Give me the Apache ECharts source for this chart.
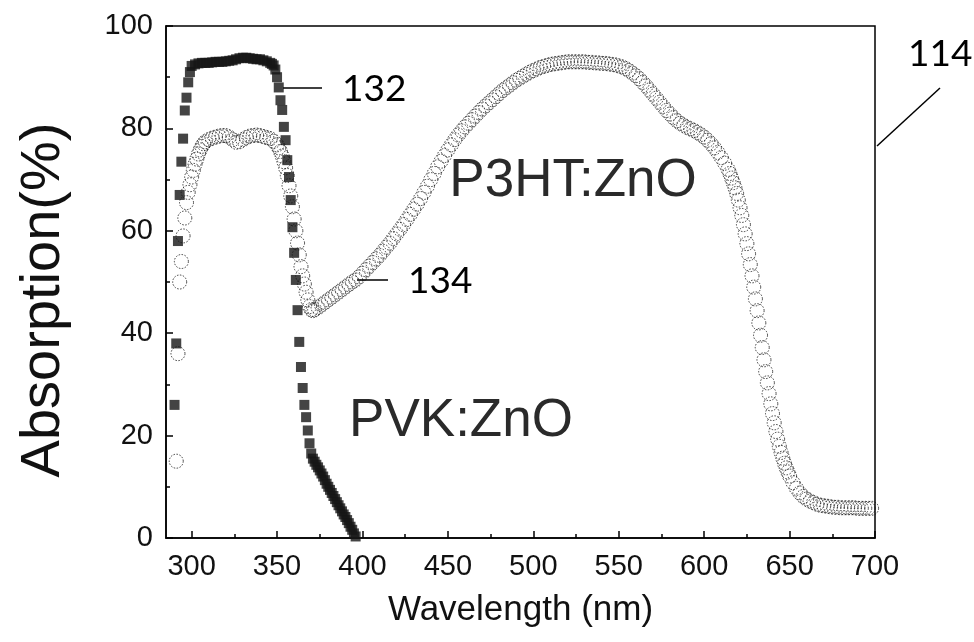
<!DOCTYPE html>
<html>
<head>
<meta charset="utf-8">
<title>Absorption</title>
<script src="https://cdn.jsdelivr.net/npm/echarts@6.0.0/dist/echarts.min.js"></script>
<style>
	html, body { margin: 0; padding: 0; background: #fff; }
	#c-abs { width: 974px; height: 642px; }
</style>
</head>
<body>
<div id="c-abs"></div>
<script>
// PVK:ZnO  [wavelength nm, absorption %]
var pvkData = [
	[290, 26], [291, 38], [292, 58], [293, 67], [294, 73.5], [295, 78], [296, 83.5], [297, 86], [298, 89], [299, 91],
	[300, 92.2], [302, 92.5], [304, 92.7], [306, 92.8], [308, 92.8], [310, 92.8], [312, 92.9], [314, 93], [316, 93], [318, 93],
	[320, 93.1], [322, 93.2], [324, 93.3], [326, 93.5], [328, 93.7], [330, 93.8], [332, 93.8], [334, 93.7], [336, 93.6], [338, 93.5],
	[340, 93.5], [342, 93.3], [344, 93.1], [346, 92.8], [347, 92.6], [348, 92.3], [349, 91.5], [350, 90], [351, 88], [352, 85.5],
	[353, 83.6], [354, 80.3], [355, 77.7], [356, 73.8], [357, 70.5], [358, 66], [359, 60.7], [360, 55.7], [361, 50.4], [362, 44.5],
	[363, 38.3], [364, 33.4], [365, 29.3], [366, 26], [367, 23.6], [368, 21], [369, 18.5], [370, 16.5], [371, 15.5], [372, 14.9],
	[373, 14.3], [374, 13.8], [375, 13.2], [376, 12.6], [377, 12], [378, 11.3], [379, 10.6], [380, 10], [381, 9.4], [382, 8.8],
	[383, 8.2], [384, 7.6], [385, 7], [386, 6.4], [387, 5.8], [388, 5.2], [389, 4.6], [390, 4.1], [391, 3.5], [392, 2.9],
	[393, 2.2], [394, 1.6], [395, 0.9], [396, 0.3]
];

// P3HT:ZnO
var p3htData = [
	[291, 15], [292, 36], [293, 50], [294, 54], [295, 59], [296, 62.5], [297, 65.5], [298, 67.5], [299, 69], [300, 70.5],
	[301, 71.8], [302, 73], [303, 74], [304, 75], [305, 75.8], [306, 76.5], [307, 77], [308, 77.4], [310, 77.8], [312, 78.1],
	[314, 78.3], [316, 78.5], [318, 78.6], [320, 78.6], [322, 78.3], [324, 77.8], [326, 77.3], [328, 77.4], [330, 77.8], [332, 78.2],
	[334, 78.5], [336, 78.6], [338, 78.7], [340, 78.6], [342, 78.4], [344, 78.2], [346, 78], [348, 77.5], [350, 76.8], [351, 76.2],
	[352, 75.5], [353, 74.6], [354, 73.5], [355, 72.3], [356, 70.8], [357, 68.8], [358, 66.8], [359, 64.7], [360, 62.3], [361, 60],
	[362, 57.6], [363, 55.3], [364, 53], [365, 51.2], [366, 49.6], [367, 48], [368, 46.5], [369, 45.2], [370, 44.6], [371, 44.4],
	[372, 44.6], [374, 45], [376, 45.5], [378, 46], [380, 46.5], [382, 47], [384, 47.5], [386, 48], [388, 48.5], [390, 49],
	[392, 49.5], [394, 50], [396, 50.4], [398, 51], [400, 51.7], [402, 52.4], [404, 53.1], [406, 53.8], [408, 54.5], [410, 55.2],
	[412, 56], [414, 56.8], [416, 57.6], [418, 58.5], [420, 59.4], [422, 60.3], [424, 61.2], [426, 62.2], [428, 63.2], [430, 64.2],
	[432, 65.2], [434, 66.3], [436, 67.5], [438, 68.7], [440, 70], [442, 71.2], [444, 72.5], [446, 73.6], [448, 74.7], [450, 75.8],
	[452, 76.8], [454, 77.8], [456, 78.7], [458, 79.5], [460, 80.3], [462, 81], [464, 81.7], [466, 82.4], [468, 83.1], [470, 83.8],
	[472, 84.4], [474, 85], [476, 85.6], [478, 86.2], [480, 86.8], [482, 87.4], [484, 87.9], [486, 88.4], [488, 88.9], [490, 89.4],
	[492, 89.8], [494, 90.2], [496, 90.6], [498, 91], [500, 91.3], [502, 91.6], [504, 91.9], [506, 92.1], [508, 92.3], [510, 92.5],
	[512, 92.6], [514, 92.7], [516, 92.8], [518, 92.9], [520, 93], [522, 93], [524, 93], [526, 93], [528, 93], [530, 93],
	[532, 92.9], [534, 92.9], [536, 92.8], [538, 92.8], [540, 92.7], [542, 92.7], [544, 92.6], [546, 92.5], [548, 92.4], [550, 92.2],
	[552, 92], [554, 91.7], [556, 91.3], [558, 90.8], [560, 90.3], [562, 89.7], [564, 89], [566, 88.3], [568, 87.5], [570, 86.7],
	[572, 85.9], [574, 85.1], [576, 84.3], [578, 83.5], [580, 82.8], [582, 82.1], [584, 81.5], [586, 81], [588, 80.6], [590, 80.2],
	[592, 79.9], [594, 79.6], [596, 79.2], [598, 78.8], [600, 78.3], [602, 77.7], [604, 77], [606, 76.2], [608, 75.3], [610, 74.3],
	[612, 73.2], [614, 72], [615, 71.2], [616, 70.3], [617, 69.4], [618, 68.4], [619, 67.3], [620, 66], [621, 64.5], [622, 63],
	[623, 61.2], [624, 59.4], [625, 57.5], [626, 55.5], [627, 53.4], [628, 51.2], [629, 49], [630, 46.7], [631, 44.4], [632, 42],
	[633, 39.6], [634, 37.2], [635, 34.8], [636, 32.5], [637, 30.3], [638, 28.2], [639, 26.2], [640, 24.3], [641, 22.5], [642, 20.8],
	[643, 19.3], [644, 17.9], [645, 16.7], [646, 15.6], [647, 14.6], [648, 13.7], [649, 12.9], [650, 12.1], [652, 10.8], [654, 9.7],
	[656, 8.8], [658, 8.1], [660, 7.6], [662, 7.2], [664, 6.9], [666, 6.6], [668, 6.4], [670, 6.3], [672, 6.2], [674, 6.1],
	[676, 6], [678, 6], [680, 5.9], [682, 5.9], [684, 5.9], [686, 5.9], [688, 5.9], [690, 5.8], [692, 5.8], [694, 5.8],
	[696, 5.8], [698, 5.8]
];

var xMajorTicks = [300, 350, 400, 450, 500, 550, 600, 650, 700];
var xMinorTicks = [325, 375, 425, 475, 525, 575, 625, 675];

var labelFont = 'Liberation Sans';
var noteFont = 'Lato';

var absChart = echarts.init(document.getElementById('c-abs'));

var absOption = {
	animation: false,
	backgroundColor: '#fff',
	grid: {
		left: 166,
		right: 99,
		top: 26,
		bottom: 104,
		show: true,
		borderColor: '#000',
		borderWidth: 1.5
	},
	xAxis: [{
		type: 'value',
		min: 285,
		max: 700,
		position: 'bottom',
		name: 'Wavelength (nm)',
		nameLocation: 'middle',
		nameGap: 55,
		nameTextStyle: { fontFamily: labelFont, fontSize: 35, color: '#111' },
		axisLine: { show: true, lineStyle: { color: '#000', width: 1.5 } },
		axisTick: { show: true, inside: true, length: 7, customValues: xMajorTicks, lineStyle: { color: '#000', width: 1.5 } },
		axisLabel: { customValues: xMajorTicks, margin: 14, fontFamily: labelFont, fontSize: 29, color: '#111' },
		splitLine: { show: false }
	}, {
		// minor ticks only
		type: 'value',
		min: 285,
		max: 700,
		position: 'bottom',
		axisLine: { show: false },
		axisTick: { show: true, inside: true, length: 4, customValues: xMinorTicks, lineStyle: { color: '#000', width: 1.5 } },
		axisLabel: { show: false },
		splitLine: { show: false }
	}],
	yAxis: {
		type: 'value',
		min: 0,
		max: 100,
		interval: 20,
		axisLine: { show: true, lineStyle: { color: '#000', width: 1.5 } },
		axisTick: { show: true, inside: true, length: 7, lineStyle: { color: '#000', width: 1.5 } },
		minorTick: { show: true, splitNumber: 2, length: 4, lineStyle: { color: '#000', width: 1.5 } },
		axisLabel: { margin: 13, fontFamily: labelFont, fontSize: 29, color: '#111' },
		splitLine: { show: false }
	},
	series: [{
		name: 'P3HT:ZnO',
		type: 'scatter',
		data: p3htData,
		symbol: 'circle',
		symbolSize: 14,
		itemStyle: { color: 'rgba(0,0,0,0)', borderColor: '#111', borderWidth: 1, borderType: [1.5, 1.5] },
		z: 2
	}, {
		name: 'PVK:ZnO',
		type: 'scatter',
		data: pvkData,
		symbol: 'rect',
		symbolSize: 10,
		itemStyle: { color: '#151515' },
		z: 3
	}],
	graphic: [
		// y axis title, a little below the axis middle as in the original
		{ type: 'text', x: 44, y: 300, rotation: Math.PI / 2, style: { text: 'Absorption(%)', fontFamily: labelFont, fontSize: 56, fill: '#111', align: 'center', verticalAlign: 'middle' } },
		{ type: 'line', shape: { x1: 283, y1: 88, x2: 322, y2: 88 }, style: { stroke: '#000', lineWidth: 1.5 } },
		{ type: 'text', x: 342, y: 89, style: { text: '132', fontFamily: noteFont, fontSize: 37, fill: '#000', verticalAlign: 'middle' } },
		{ type: 'line', shape: { x1: 357, y1: 280, x2: 388, y2: 280 }, style: { stroke: '#000', lineWidth: 1.5 } },
		{ type: 'text', x: 408, y: 281, style: { text: '134', fontFamily: noteFont, fontSize: 37, fill: '#000', verticalAlign: 'middle' } },
		{ type: 'line', shape: { x1: 877, y1: 146, x2: 940, y2: 88 }, style: { stroke: '#000', lineWidth: 1.5 } },
		{ type: 'text', x: 908, y: 54, style: { text: '114', fontFamily: noteFont, fontSize: 37, fill: '#000', verticalAlign: 'middle' } },
		{ type: 'text', x: 573, y: 181, style: { text: 'P3HT:ZnO', fontFamily: labelFont, fontSize: 53, fill: '#2a2a2a', align: 'center', verticalAlign: 'middle' } },
		{ type: 'text', x: 461, y: 421, style: { text: 'PVK:ZnO', fontFamily: labelFont, fontSize: 53, fill: '#2a2a2a', align: 'center', verticalAlign: 'middle' } }
	]
};

absChart.setOption(absOption);
</script>
</body>
</html>
